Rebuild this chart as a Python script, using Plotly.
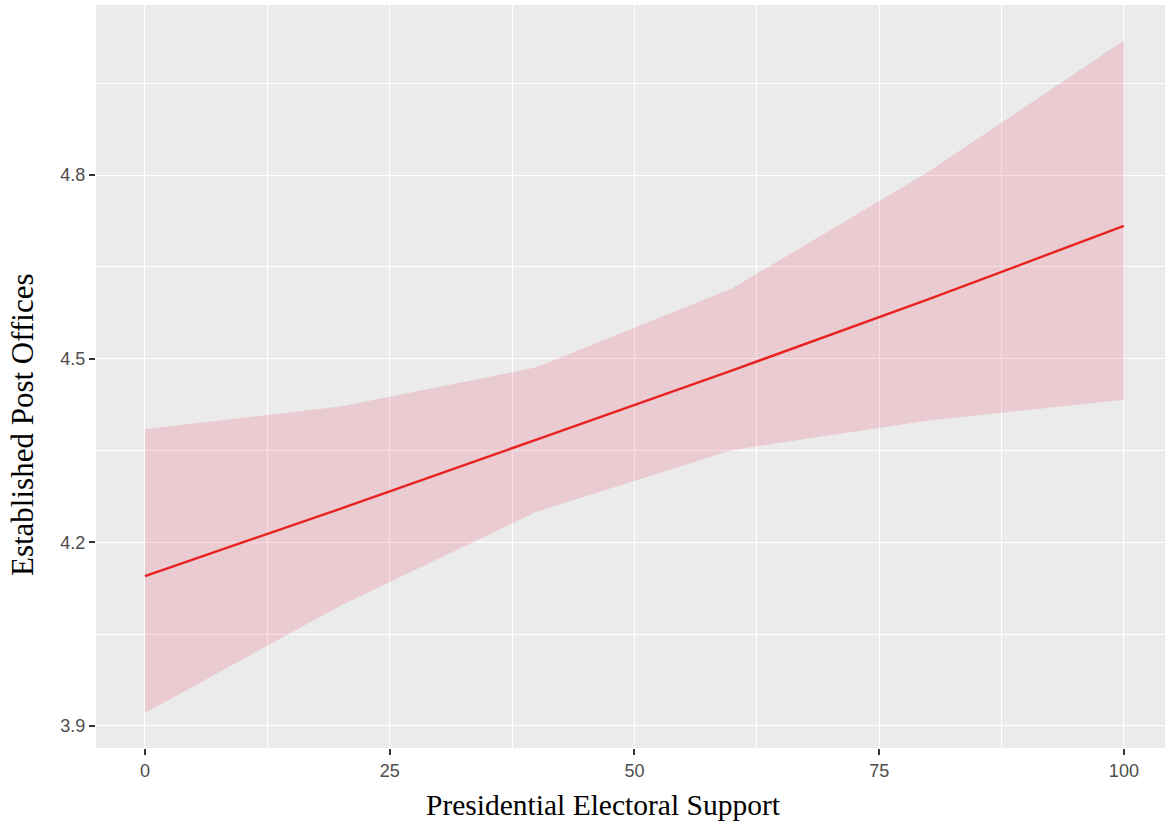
import plotly.graph_objects as go

support = [0, 20, 40, 60, 80, 100]
predicted = [4.145, 4.255, 4.368, 4.481, 4.597, 4.717]
ci_low = [3.921, 4.097, 4.250, 4.351, 4.399, 4.433]
ci_high = [4.385, 4.422, 4.486, 4.615, 4.805, 5.020]

x_ticks = [0, 25, 50, 75, 100]
y_ticks = [3.9, 4.2, 4.5, 4.8]

fig = go.Figure()
fig.add_trace(go.Scatter(x=support, y=ci_low, mode="lines", line=dict(width=0),
                         showlegend=False, hoverinfo="skip"))
fig.add_trace(go.Scatter(x=support, y=ci_high, mode="lines", line=dict(width=0),
                         fill="tonexty", fillcolor="rgba(220,20,60,0.15)",
                         showlegend=False, hoverinfo="skip"))
fig.add_trace(go.Scatter(x=support, y=predicted, mode="lines",
                         line=dict(color="#E8221F", width=2.4), showlegend=False))

axis_common = dict(
    showgrid=True, gridcolor="white", gridwidth=1.3, zeroline=False,
    ticks="outside", ticklen=6, tickwidth=1.8, tickcolor="#333333",
    tickfont=dict(family="Liberation Sans, Arial, sans-serif", size=18, color="#4D4D4D"),
    showline=False,
)

W, H = 1167, 827
ML, MR, MT, MB = 96, 2, 5, 79
pw, ph = W - ML - MR, H - MT - MB

fig.update_layout(
    width=W, height=H,
    margin=dict(l=ML, r=MR, t=MT, b=MB),
    paper_bgcolor="white", plot_bgcolor="#EBEBEB",
    xaxis=dict(range=[-5.0, 104.2], tickvals=x_ticks, ticktext=[str(v) for v in x_ticks],
               minor=dict(tickvals=[12.5, 37.5, 62.5, 87.5], showgrid=True,
                          gridcolor="white", gridwidth=0.6, ticks=""),
               **axis_common),
    yaxis=dict(range=[3.864, 5.078], tickvals=y_ticks, ticktext=["3.9", "4.2", "4.5", "4.8"],
               minor=dict(tickvals=[4.05, 4.35, 4.65, 4.95], showgrid=True,
                          gridcolor="white", gridwidth=0.6, ticks=""),
               **axis_common),
    annotations=[
        dict(text="Presidential Electoral Support", xref="paper", yref="paper",
             x=(603 - ML) / pw, y=(H - MB - 805) / ph, xanchor="center", yanchor="middle",
             showarrow=False,
             font=dict(family="Liberation Serif, Times New Roman, serif", size=29.5, color="black")),
        dict(text="Established Post Offices", xref="paper", yref="paper",
             x=(23 - ML) / pw, y=(H - MB - 425) / ph, xanchor="center", yanchor="middle",
             textangle=-90, showarrow=False,
             font=dict(family="Liberation Serif, Times New Roman, serif", size=31, color="black")),
    ],
)

fig.write_html("out.html")
